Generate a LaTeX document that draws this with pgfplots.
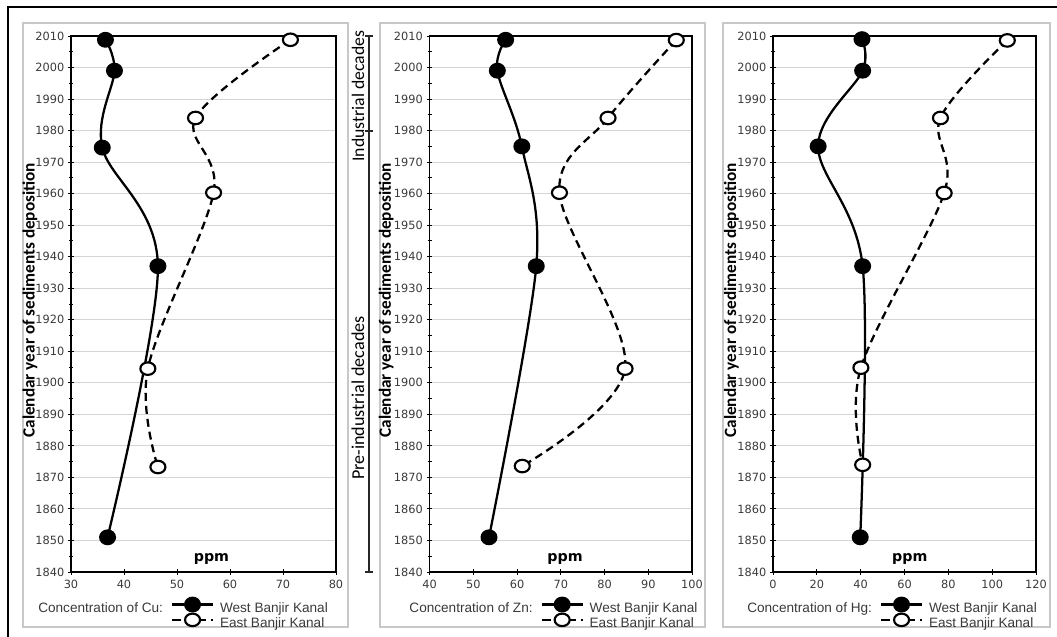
\documentclass[border=0pt]{standalone}
\usepackage{pgfplots}
\pgfplotsset{compat=1.18}
\usepackage{pgfplotstable}
\usepackage{fontspec}
\setmainfont{DejaVu Sans}
\newfontfamily\carlito{Carlito}
\newfontfamily\lib{Liberation Sans}
\newfontfamily\dejavu{DejaVu Sans}

\definecolor{tickgray}{HTML}{3A3A3A}
\definecolor{leggray}{HTML}{3A3A3A}
\definecolor{gridgray}{HTML}{D4D4D4}
\definecolor{boxgray}{HTML}{C8C8C8}

% Cu
\pgfplotstableread{
x y
36.5 2008.8
38.2 1999
35.9 1974.6
46.4 1937
36.9 1851
}\cuwest
\pgfplotstableread{
x y
71.4 2008.8
53.5 1984
56.9 1960.3
44.5 1904.5
46.4 1873.3
}\cueast
% Zn
\pgfplotstableread{
x y
57.4 2008.8
55.5 1999
61.1 1975
64.4 1937
53.6 1851
}\znwest
\pgfplotstableread{
x y
96.4 2008.7
80.8 1984
69.7 1960.3
84.7 1904.5
61.2 1873.6
}\zneast
% Hg
\pgfplotstableread{
x y
40.6 2009
40.9 1999
20.6 1975
40.9 1937
39.8 1851
}\hgwest
\pgfplotstableread{
x y
106.9 2008.6
76.4 1984
78.1 1960.2
40.1 1904.8
40.9 1874
}\hgeast

\pgfplotsset{
  panel/.style={
    scale only axis,
    height=402pt,
    ymin=1840, ymax=2010,
    ytick={1840,1850,...,2010},
    minor y tick num=1,
    ymajorgrids,
    major grid style={gridgray, line width=0.7pt},
    axis line style={black, line width=1pt},
    tick style={black, line width=0.7pt},
    tick align=center,
    major tick length=4pt,
    minor tick length=3pt,
    xtick pos=bottom, ytick pos=left,
    /pgf/number format/assume math mode=true,
    /pgf/number format/1000 sep={},
    tick label style={font=\dejavu\fontsize{8.5}{10}\selectfont, text=tickgray},
    yticklabel style={xshift=0.5pt},
    xticklabel style={yshift=-0.5pt},
    ylabel={Calendar year of sediments deposition},
    ylabel style={font=\carlito\bfseries\fontsize{12.9}{14}\selectfont, anchor=center},
    xlabel={ppm},
    xlabel style={font=\dejavu\bfseries\fontsize{10.7}{12}\selectfont, anchor=center},
    legend columns=2,
    legend cell align=left,
    legend style={draw=none, fill=none, inner sep=0pt, at={(axis description cs:0,0)}, anchor=north west,
      font=\lib\fontsize{10.2}{11}\selectfont, text=leggray,
      nodes={inner sep=0pt, text height=7pt, text depth=2pt},
      column sep=5.25pt,
      /tikz/every even column/.append style={column sep=6.75pt},
      row sep=0pt},
    legend image code/.code={%
      \draw[overlay, mark repeat=2, mark phase=2, #1] plot coordinates {(0pt,3.3pt) (15.4pt,3.3pt) (30.75pt,3.3pt)};
      \path[draw=none, fill=none] (0pt,0pt) rectangle (30.75pt,7pt);},
  },
  west/.style={black, line width=1.7pt, smooth, tension=0.55, mark=*, mark size=5.1pt, mark options={solid, fill=black, xscale=1.08}},
  east/.style={black, line width=1.7pt, smooth, tension=0.55, dash pattern=on 6pt off 3.75pt, mark=*, mark size=4.7pt, mark options={solid, fill=white, draw=black, line width=1.6pt, xscale=1.2}},
}

\begin{document}
\begin{tikzpicture}
\begin{scope}[x=0.75pt, y=0.75pt]
\useasboundingbox (0,0) rectangle (1057,636);
% outer frame (top and left visible)
\draw[black, line width=1pt] (8,-10) -- (8,629) -- (1070,629);
% panel boxes
\draw[boxgray, line width=1pt] (23,9) rectangle (348,613);
\draw[boxgray, line width=1pt] (380,9) rectangle (705,613);
\draw[boxgray, line width=1pt] (723,9) rectangle (1050,613);
% bracket
\draw[black!85, line width=0.8pt] (369,600) -- (369,64);
\draw[black!85, line width=0.8pt] (365,600) -- (373,600);
\draw[black!85, line width=0.8pt] (365,505) -- (373,505);
\draw[black!85, line width=0.8pt] (365,64) -- (373,64);
\node[rotate=90, font=\carlito\fontsize{13.3}{15}\selectfont] at (358,540) {Industrial decades};
\node[rotate=90, font=\carlito\fontsize{13.6}{15}\selectfont] at (358,238) {Pre-industrial decades};
\end{scope}

% Panel 1: Cu
\begin{axis}[panel, at={(53.25pt,48pt)}, anchor=south west, width=198.75pt,
  xmin=30, xmax=80, xtick={30,40,...,80},
  xlabel style={at={(axis description cs:0.53,0.024)}},
  ylabel style={at={(axis description cs:-0.155,0.507)}},
  legend style={xshift=-30pt, yshift=-20.5pt}]
\addlegendimage{empty legend}\addlegendentry{Concentration of Cu:}
\addplot[west] table[x=x,y=y] {\cuwest};
\addlegendentry{West Banjir Kanal}
\addlegendimage{empty legend}\addlegendentry{}
\addplot[east] table[x=x,y=y] {\cueast};
\addlegendentry{East Banjir Kanal}
\end{axis}

% Panel 2: Zn
\begin{axis}[panel, at={(322.125pt,48pt)}, anchor=south west, width=196.9pt,
  xmin=40, xmax=100, xtick={40,50,...,100},
  xlabel style={at={(axis description cs:0.516,0.024)}},
  ylabel style={at={(axis description cs:-0.165,0.507)}},
  legend style={xshift=-20.5pt, yshift=-20.5pt}]
\addlegendimage{empty legend}\addlegendentry{Concentration of Zn:}
\addplot[west] table[x=x,y=y] {\znwest};
\addlegendentry{West Banjir Kanal}
\addlegendimage{empty legend}\addlegendentry{}
\addplot[east] table[x=x,y=y] {\zneast};
\addlegendentry{East Banjir Kanal}
\end{axis}

% Panel 3: Hg
\begin{axis}[panel, at={(579.75pt,48pt)}, anchor=south west, width=197.25pt,
  xmin=0, xmax=120, xtick={0,20,...,120},
  xlabel style={at={(axis description cs:0.52,0.024)}},
  ylabel style={at={(axis description cs:-0.158,0.507)}},
  legend style={xshift=-24.75pt, yshift=-20.5pt}]
\addlegendimage{empty legend}\addlegendentry{Concentration of Hg:}
\addplot[west] table[x=x,y=y] {\hgwest};
\addlegendentry{West Banjir Kanal}
\addlegendimage{empty legend}\addlegendentry{}
\addplot[east] table[x=x,y=y] {\hgeast};
\addlegendentry{East Banjir Kanal}
\end{axis}
\end{tikzpicture}
\end{document}
